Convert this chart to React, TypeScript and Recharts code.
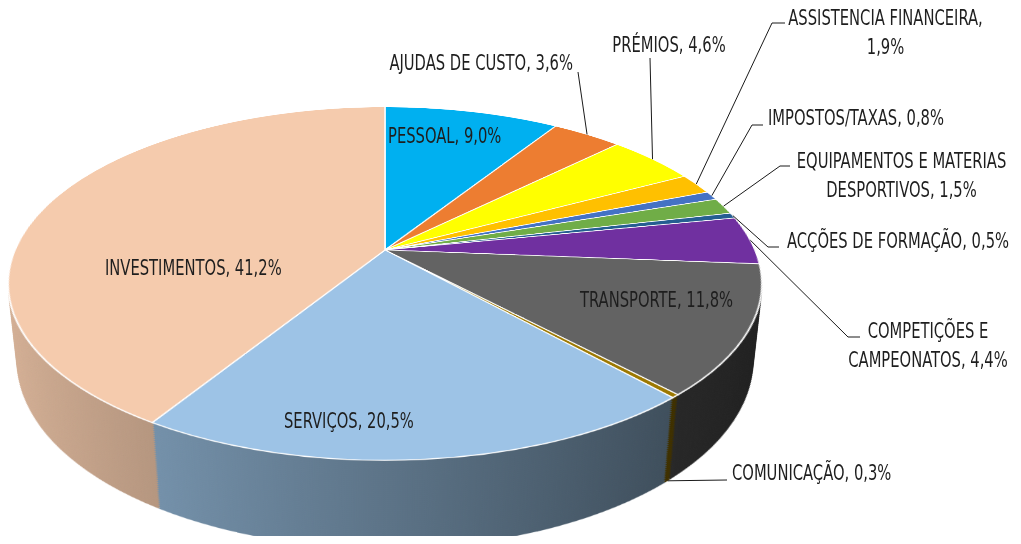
import React from 'react';
import { PieChart, Pie, Cell } from 'recharts';

// ---------- data ----------
const categories = [
  'PESSOAL',
  'AJUDAS DE CUSTO',
  'PRÉMIOS',
  'ASSISTENCIA FINANCEIRA',
  'IMPOSTOS/TAXAS',
  'EQUIPAMENTOS E MATERIAS DESPORTIVOS',
  'ACÇÕES DE FORMAÇÃO',
  'COMPETIÇÕES E CAMPEONATOS',
  'TRANSPORTE',
  'COMUNICAÇÃO',
  'SERVIÇOS',
  'INVESTIMENTOS',
];
const shares = [9.0, 3.6, 4.6, 1.9, 0.8, 1.5, 0.5, 4.4, 11.8, 0.3, 20.5, 41.2];
const colors = [
  '#00B0F0', '#ED7D31', '#FFFF00', '#FFC000', '#4472C4', '#70AD47',
  '#255E91', '#7030A0', '#636363', '#9C7800', '#9DC3E6', '#F5CBAD',
];

const data = categories.map((name, i) => ({ name, value: shares[i] }));
const fmt = (v: number) => v.toFixed(1).replace('.', ',') + '%';

// ---------- 3D geometry / style ----------
const R = 370;
const HALF = 380;
const APEX_X = 385;
const APEX_Y = 250;
const TILT_DEG = 62.6;
const PERSPECTIVE = 1725;
const THICKNESS = 88;
const STEP = 2;
const TILT = (TILT_DEG * Math.PI) / 180;

// label layout (page coords)
type Lay = {
  x: number; y: number; anchor: 'start' | 'middle' | 'end';
  wrap?: number; elbow?: [number, number]; end?: [number, number]; fromBase?: boolean; leader?: boolean;
};
const labelLayout: Lay[] = [
  { x: 388, y: 143, anchor: 'start' },
  { x: 573, y: 70, anchor: 'end', leader: true, end: [578, 72] },
  { x: 669, y: 52, anchor: 'middle', leader: true, end: [650, 58] },
  { x: 885.5, y: 25, anchor: 'middle', wrap: 2, leader: true, elbow: [772, 23], end: [785, 23] },
  { x: 768, y: 125, anchor: 'start', leader: true, elbow: [752, 125], end: [763, 125] },
  { x: 901.5, y: 168, anchor: 'middle', wrap: 3, leader: true, elbow: [780, 166], end: [790, 166] },
  { x: 787, y: 248, anchor: 'start', leader: true, elbow: [768, 247], end: [779, 247] },
  { x: 928, y: 338, anchor: 'middle', wrap: 2, leader: true, elbow: [848, 337], end: [860, 337] },
  { x: 580, y: 307, anchor: 'start' },
  { x: 732, y: 480, anchor: 'start', leader: true, fromBase: true, end: [727, 480] },
  { x: 284, y: 428, anchor: 'start' },
  { x: 105, y: 275, anchor: 'start' },
];

const FONT = "'Liberation Sans Narrow', 'Arial Narrow', 'DejaVu Sans Condensed', sans-serif";
const FONT_SIZE = 20.5;
const SX = 0.8;
const LINE_GAP = 29;

function shade(hex: string, f: number) {
  const n = parseInt(hex.slice(1), 16);
  const r = Math.round(((n >> 16) & 255) * f);
  const g = Math.round(((n >> 8) & 255) * f);
  const b = Math.round((n & 255) * f);
  return `rgb(${r},${g},${b})`;
}

function project(px: number, py: number, depth: number): [number, number] {
  const yr = py * Math.cos(TILT) + depth * Math.sin(TILT);
  const zr = py * Math.sin(TILT) - depth * Math.cos(TILT);
  const s = PERSPECTIVE / (PERSPECTIVE - zr);
  return [px * s, yr * s];
}

function PieLayer({ depth, top }: { depth: number; top: boolean }) {
  return (
    <div
      style={{
        position: 'absolute',
        left: APEX_X - HALF,
        top: APEX_Y - HALF,
        width: 2 * HALF,
        height: 2 * HALF,
        transformOrigin: '50% 50%',
        transform: `perspective(${PERSPECTIVE}px) rotateX(${TILT_DEG}deg) translateZ(${-depth}px)`,
      }}
    >
      <PieChart width={2 * HALF} height={2 * HALF} margin={{ top: 0, right: 0, bottom: 0, left: 0 }}>
        <Pie
          data={data}
          dataKey="value"
          nameKey="name"
          cx={HALF}
          cy={HALF}
          outerRadius={R}
          startAngle={90}
          endAngle={-270}
          isAnimationActive={false}
          stroke={top ? '#ffffff' : 'none'}
          strokeWidth={top ? 1.6 : 0}
        >
          {data.map((d, i) => (
            <Cell key={d.name} fill={top ? colors[i] : `url(#wall-${i})`} stroke={top ? '#ffffff' : 'none'} />
          ))}
        </Pie>
      </PieChart>
    </div>
  );
}

const renderLabel = (props: any) => {
  const { index, midAngle, cx, cy, outerRadius } = props;
  const lay = labelLayout[index];
  const words = `${categories[index]}, ${fmt(shares[index])}`.split(' ');
  const lines = lay.wrap ? [words.slice(0, lay.wrap).join(' '), words.slice(lay.wrap).join(' ')] : [words.join(' ')];
  const rad = (midAngle * Math.PI) / 180;
  const [sx, sy] = project(outerRadius * Math.cos(rad), -outerRadius * Math.sin(rad), lay.fromBase ? THICKNESS : 0);
  const start: [number, number] = [cx + sx, cy + sy];
  let leader = null;
  if (lay.leader && lay.end) {
    const pts = [start];
    if (lay.elbow) pts.push(lay.elbow);
    pts.push(lay.end);
    leader = (
      <polyline
        points={pts.map((p) => `${p[0]},${p[1]}`).join(' ')}
        fill="none"
        stroke="#1a1a1a"
        strokeWidth={1}
      />
    );
  }
  return (
    <g key={`lab-${index}`}>
      {leader}
      {lines.map((ln, k) => (
        <g key={k} transform={`translate(${lay.x},${lay.y + k * LINE_GAP}) scale(${SX},1)`}>
          <text x={0} y={0} textAnchor={lay.anchor} fontFamily={FONT} fontSize={FONT_SIZE} fill="#1e1e1e">
            {ln}
          </text>
        </g>
      ))}
    </g>
  );
};

export default function App() {
  const depths: number[] = [];
  for (let d = THICKNESS; d > 0; d -= STEP) depths.push(d);
  return (
    <div
      style={{
        position: 'relative',
        margin: -8,
        width: 1021,
        height: 544,
        overflow: 'hidden',
        background: '#ffffff',
      }}
    >
      <svg width={0} height={0} style={{ position: 'absolute' }}>
        <defs>
          {colors.map((c, i) => (
            <linearGradient key={i} id={`wall-${i}`} gradientUnits="userSpaceOnUse" x1={0} y1={0} x2={2 * HALF} y2={0}>
              <stop offset="0%" stopColor={shade(c, 0.88)} />
              <stop offset="100%" stopColor={shade(c, 0.3)} />
            </linearGradient>
          ))}
        </defs>
      </svg>
      {depths.map((d) => (
        <PieLayer key={d} depth={d} top={false} />
      ))}
      <PieLayer depth={0} top={true} />
      <div style={{ position: 'absolute', left: 0, top: 0 }}>
        <PieChart width={1021} height={544} margin={{ top: 0, right: 0, bottom: 0, left: 0 }}>
          <Pie
            data={data}
            dataKey="value"
            nameKey="name"
            cx={APEX_X}
            cy={APEX_Y}
            outerRadius={R}
            startAngle={90}
            endAngle={-270}
            isAnimationActive={false}
            fill="transparent"
            stroke="none"
            labelLine={false}
            label={renderLabel}
          >
            {data.map((d) => (
              <Cell key={d.name} fill="transparent" stroke="none" />
            ))}
          </Pie>
        </PieChart>
      </div>
      <div style={{ position: 'absolute', left: 1017, top: 0, width: 1, height: 544, background: '#d4d4d4' }} />
    </div>
  );
}
